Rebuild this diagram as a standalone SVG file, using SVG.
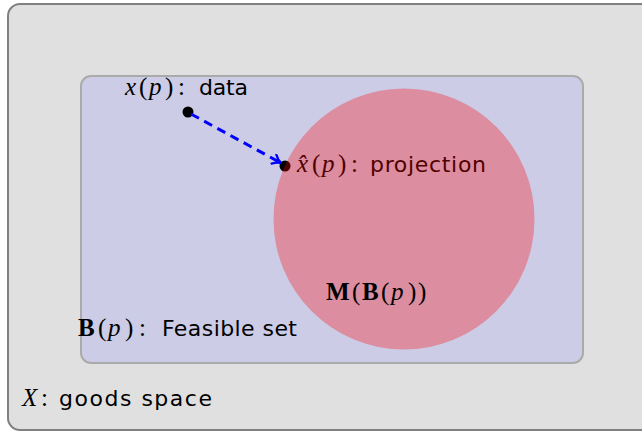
<svg xmlns="http://www.w3.org/2000/svg" width="642" height="434" viewBox="0 0 642 434">
<style>
.m{font-family:"Liberation Serif","Times New Roman",serif;font-style:italic;font-size:25px;}
.u{font-family:"Liberation Serif","Times New Roman",serif;font-style:normal;font-size:25px;}
.b{font-family:"Liberation Serif","Times New Roman",serif;font-weight:bold;font-style:normal;font-size:25px;}
.s{font-family:"DejaVu Sans","Liberation Sans",sans-serif;font-size:22px;}
text{fill:#000;}
</style>
<defs>
<marker id="ah" viewBox="0 0 12 12" refX="10" refY="6" markerWidth="12" markerHeight="12" markerUnits="userSpaceOnUse" orient="auto">
<path d="M2,1 Q6,5 10,6 Q6,7 2,11" fill="none" stroke="#0000ff" stroke-width="2.4" stroke-linecap="round"/>
</marker>
</defs>
<g id="goods-space">
<rect x="8" y="4" width="660" height="426" rx="12" fill="#e0e0e0" stroke="#808080" stroke-width="2"/>
<text y="406"><tspan class="m" x="22">X</tspan><tspan class="u" x="41">:</tspan><tspan class="s" x="59" textLength="153" lengthAdjust="spacing">goods space</tspan></text>
</g>
<g id="feasible-set">
<rect x="81" y="76" width="502" height="287" rx="10" fill="#ccccE6" stroke="#aaaaaa" stroke-width="2"/>
<text y="336"><tspan class="b" x="78">B</tspan><tspan class="u" x="98">(</tspan><tspan class="m" x="108">p</tspan><tspan class="u" x="125">)</tspan><tspan class="u" x="139">:</tspan><tspan class="s" x="162" textLength="135" lengthAdjust="spacing">Feasible set</tspan></text>
</g>
<g id="data">
<circle cx="188" cy="112" r="5.5" fill="#000"/>
<text y="95"><tspan class="m" x="125">x</tspan><tspan class="u" x="139">(</tspan><tspan class="m" x="149">p</tspan><tspan class="u" x="165">)</tspan><tspan class="u" x="178">:</tspan><tspan class="s" x="199" textLength="49" lengthAdjust="spacing">data</tspan></text>
</g>
<g id="projection">
<circle cx="285" cy="166" r="5.5" fill="#000"/>
<text y="172"><tspan class="m" x="297">x̂</tspan><tspan class="u" x="312">(</tspan><tspan class="m" x="322">p</tspan><tspan class="u" x="338">)</tspan><tspan class="u" x="351">:</tspan><tspan class="s" x="370" textLength="116" lengthAdjust="spacing">projection</tspan></text>
</g>
<g id="connectors">
<line x1="191" y1="114" x2="281" y2="163" stroke="#0000ff" stroke-width="3" stroke-dasharray="9,6" marker-end="url(#ah)"/>
</g>
<g id="mb-set">
<circle cx="404" cy="219" r="130.5" fill="#ff0000" fill-opacity="0.31"/>
<text y="300"><tspan class="b" x="326">M</tspan><tspan class="u" x="352">(</tspan><tspan class="b" x="362">B</tspan><tspan class="u" x="381">(</tspan><tspan class="m" x="391">p</tspan><tspan class="u" x="408">)</tspan><tspan class="u" x="418">)</tspan></text>
</g>
</svg>
